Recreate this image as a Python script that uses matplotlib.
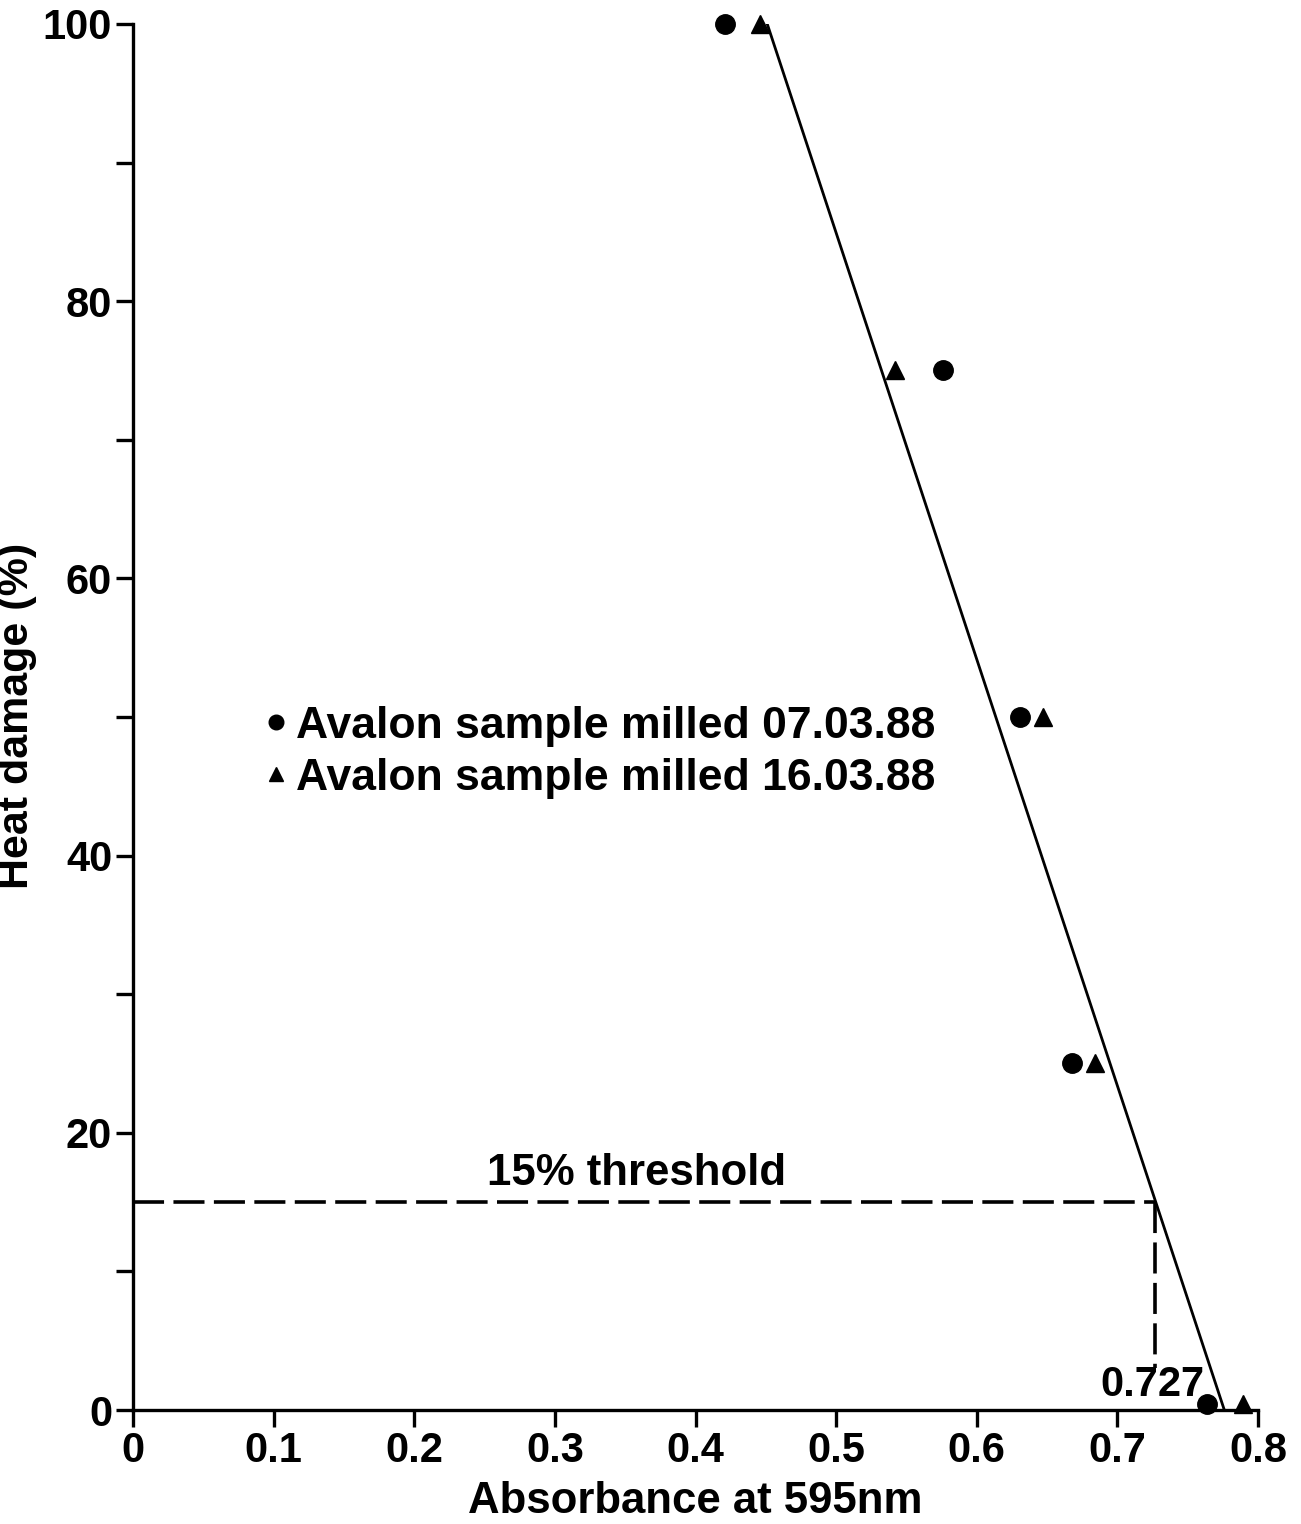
import matplotlib
matplotlib.use("Agg")
import matplotlib.pyplot as plt

plt.rcParams['font.family'] = ['Liberation Sans', 'DejaVu Sans']
plt.rcParams['font.weight'] = 'bold'
plt.rcParams['axes.labelweight'] = 'bold'

# sample milled 07.03.88 (circles)
abs_0703 = [0.421, 0.576, 0.631, 0.668, 0.764]
dmg_0703 = [100, 75, 50, 25, 0.4]
# sample milled 16.03.88 (triangles)
abs_1603 = [0.446, 0.542, 0.647, 0.684, 0.789]
dmg_1603 = [100, 75, 50, 25, 0.4]

# fitted line end points
fit_x = [0.451, 0.776]
fit_y = [100, 0]

threshold = 15
threshold_abs = 0.727
drop_bottom = 3.0

fig = plt.figure(figsize=(13.01, 15.24), dpi=100)
ax = fig.add_axes([0.1022, 0.0748, 0.8648, 0.9095])

ax.plot(fit_x, fit_y, color='k', lw=2.0, zorder=2)
ax.plot(abs_0703, dmg_0703, 'o', color='k', ms=14, ls='none', clip_on=False,
        label='Avalon sample milled 07.03.88', zorder=3)
ax.plot(abs_1603, dmg_1603, '^', color='k', ms=13, ls='none', clip_on=False,
        label='Avalon sample milled 16.03.88', zorder=3)

dash = (0, (8.6, 2.6))
ax.plot([0, threshold_abs], [threshold, threshold], color='k', lw=2.6, ls=dash)
ax.plot([threshold_abs, threshold_abs], [threshold, drop_bottom], color='k', lw=2.6, ls=dash)

ax.text(0.358, threshold + 0.6, '15% threshold', fontsize=31.5, ha='center', va='bottom')
ax.text(0.762, 0.35, '0.727', fontsize=30, ha='right', va='bottom')

ax.set_xlim(0, 0.8)
ax.set_ylim(0, 100)
ax.set_xticks([0, 0.1, 0.2, 0.3, 0.4, 0.5, 0.6, 0.7, 0.8])
ax.set_xticklabels(['0', '0.1', '0.2', '0.3', '0.4', '0.5', '0.6', '0.7', '0.8'])
ax.set_yticks(range(0, 101, 10))
ax.set_yticklabels([str(v) if v % 20 == 0 else '' for v in range(0, 101, 10)])

for s in ['top', 'right']:
    ax.spines[s].set_visible(False)
for s in ['left', 'bottom']:
    ax.spines[s].set_linewidth(2.4)

ax.tick_params(axis='both', direction='out', length=12, width=2.4, labelsize=30, pad=3)
ax.set_xlabel('Absorbance at 595nm', fontsize=31.5)
ax.set_ylabel('Heat damage (%)', fontsize=31)
ax.xaxis.set_label_coords(0.5, -0.051)
ax.yaxis.set_label_coords(-(133 - 37) / 1125, (1410 - 716) / 1386)

leg = ax.legend(loc='upper left', bbox_to_anchor=(0.117, 0.508), frameon=False,
                fontsize=32, handlelength=0.5, handletextpad=0.2, labelspacing=0.24,
                borderpad=0, borderaxespad=0, markerscale=0.75)

fig.savefig('out.png', dpi=100)
